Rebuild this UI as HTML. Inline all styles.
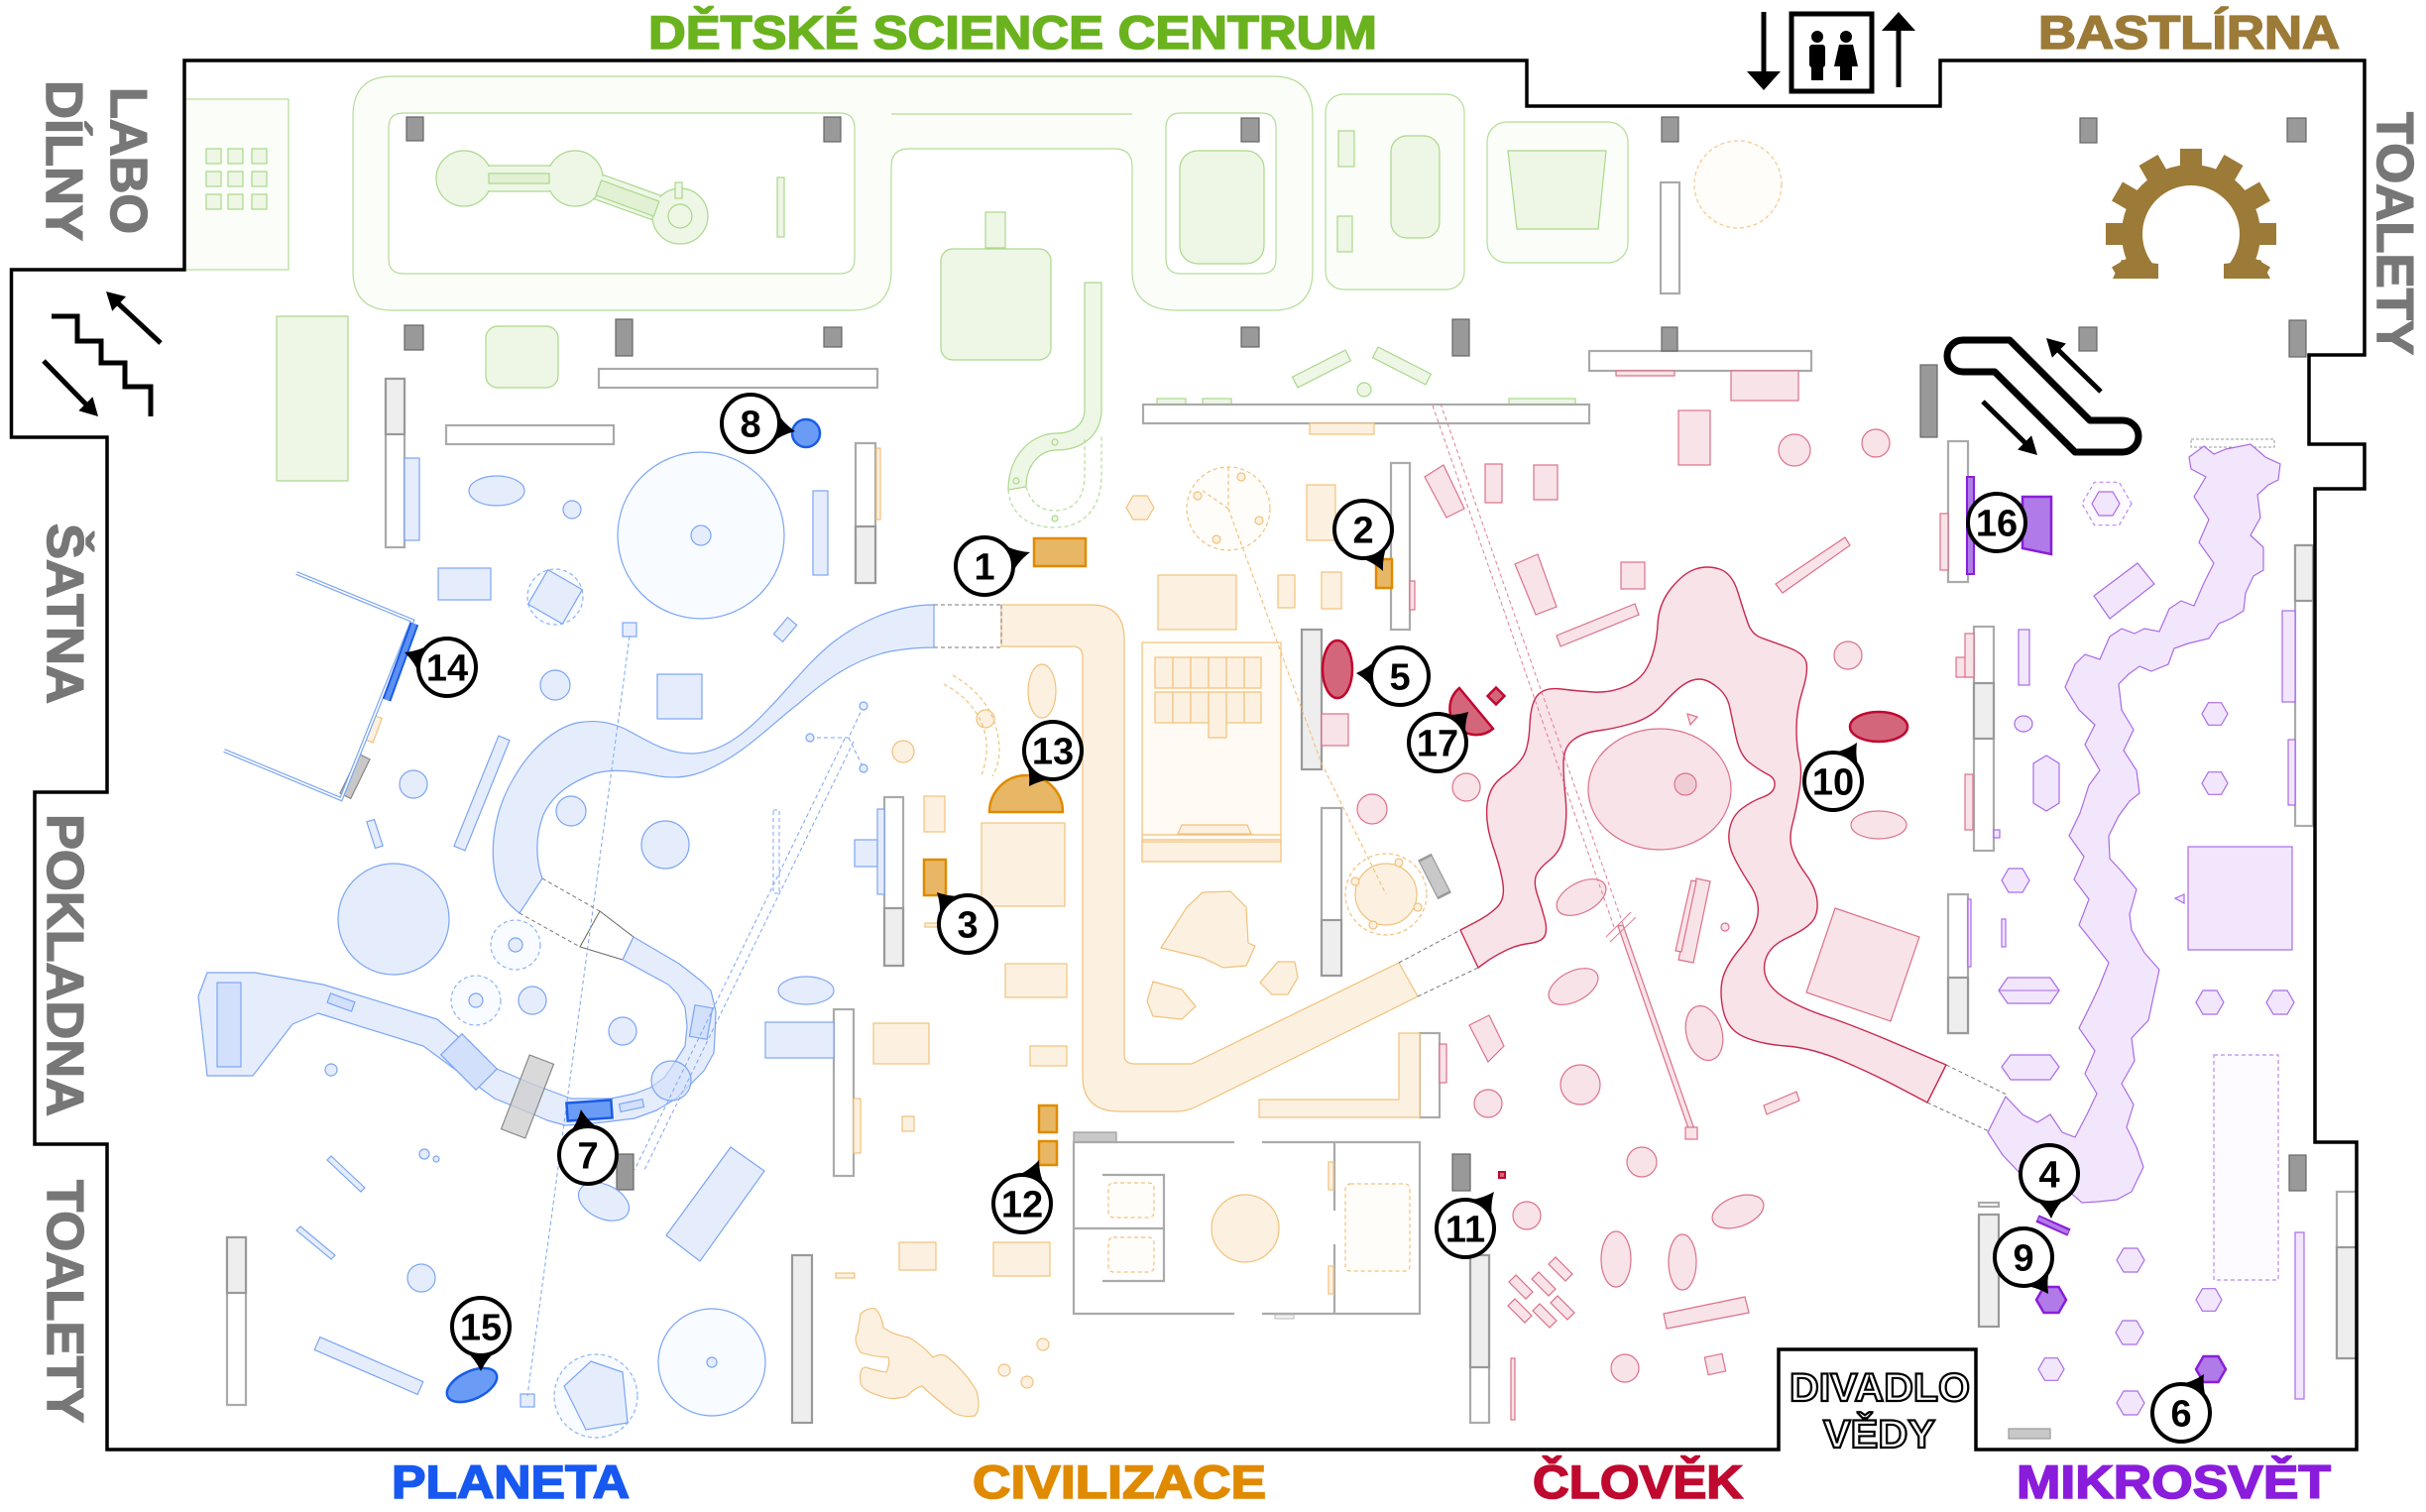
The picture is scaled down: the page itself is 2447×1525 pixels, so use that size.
<!DOCTYPE html>
<html><head><meta charset="utf-8"><style>
html,body{margin:0;padding:0;background:#fff}
svg{display:block}
</style></head><body>
<svg xmlns="http://www.w3.org/2000/svg" width="2447" height="1525" viewBox="0 0 2447 1525">
<style>
text{font-family:"Liberation Sans",Arial,sans-serif;font-weight:bold}
.g{fill:#eef6e5;stroke:#a9d98b;stroke-width:1.2}
.gt{fill:#fbfdf8;stroke:#b4dd98;stroke-width:1.2}
.b{fill:#e5edfd;stroke:#7ca5f5;stroke-width:1.2}
.bd{fill:#d2e0fb;stroke:#7ca5f5;stroke-width:1.2}
.bf{fill:#f8fbff;stroke:#7ca5f5;stroke-width:1.2}
.bdash{fill:#f8fbff;stroke:#8fb2f6;stroke-width:1.2;stroke-dasharray:4 3}
.o{fill:#fcf1e1;stroke:#f2c17a;stroke-width:1.2}
.odash{fill:none;stroke:#f2c17a;stroke-width:1.2;stroke-dasharray:4 3}
.p{fill:#f8e3e8;stroke:#dd7189;stroke-width:1.2}
.pb{fill:#f8e3e8;stroke:#c8284e;stroke-width:1.4;stroke-linejoin:round}
.u{fill:#f2e6fc;stroke:#a96be8;stroke-width:1.2}
.udash{fill:#fdfbff;stroke:#b98af0;stroke-width:1.2;stroke-dasharray:4 3}
.w{fill:#fff;stroke:#aaa;stroke-width:2.2}
.s{fill:#eee;stroke:#999;stroke-width:2.2}
.k{fill:#999;stroke:#666;stroke-width:1.2}
.dash{fill:none;stroke:#777;stroke-width:1;stroke-dasharray:4 3}
.m path{fill:#000}
.m circle{fill:#fff;stroke:#000;stroke-width:4}
.m text{font-size:38px;text-anchor:middle;fill:#000}
.lbl{fill:#777;stroke:#777;stroke-width:1.5;font-size:52px}
.ttl{font-size:47px;stroke-width:1.6}
</style>

<!-- ================= GREEN ZONE ================= -->
<rect class="gt" x="187" y="100" width="104" height="172"/>
<g class="g">
<rect x="208" y="150" width="15" height="15"/><rect x="230" y="150" width="15" height="15"/><rect x="254" y="150" width="15" height="15"/>
<rect x="208" y="173" width="15" height="15"/><rect x="230" y="173" width="15" height="15"/><rect x="254" y="173" width="15" height="15"/>
<rect x="208" y="196" width="15" height="15"/><rect x="230" y="196" width="15" height="15"/><rect x="254" y="196" width="15" height="15"/>
</g>
<path class="gt" fill-rule="evenodd" d="M396,77 H1284 Q1324,77 1324,117 V273 Q1324,313 1284,313 H1187 Q1142,313 1142,273 V168 Q1142,150 1124,150 H917 Q899,150 899,168 V273 Q899,313 859,313 H396 Q356,313 356,273 V117 Q356,77 396,77 Z M407,114 H847 Q862,114 862,129 V261 Q862,276 847,276 H407 Q392,276 392,261 V129 Q392,114 407,114 Z M1191,114 H1272 Q1287,114 1287,129 V261 Q1287,276 1272,276 H1191 Q1176,276 1176,261 V129 Q1176,114 1191,114 Z"/>
<path d="M899,115 H1142" fill="none" stroke="#b4dd98" stroke-width="1.2"/>
<!-- dumbbell -->
<g class="g">
<rect x="470" y="167" width="108" height="26"/>
<polygon points="584.4,167.8 690.4,205.8 681.6,230.2 575.6,192.2"/>
<circle cx="468" cy="180" r="28"/><circle cx="580" cy="180" r="28"/><circle cx="686" cy="218" r="28"/>
</g>
<g fill="#eef6e5"><rect x="480" y="168" width="90" height="24"/><polygon points="592,172 680,204 674,222 586,190"/></g>
<g class="g">
<rect x="493" y="175" width="61" height="10" style="fill:#e2f0d4"/>
<rect x="-31" y="-8" width="62" height="16" transform="translate(633,200) rotate(20)" style="fill:#e2f0d4"/>
<circle cx="686" cy="218" r="12"/>
<rect x="681" y="184" width="7" height="16"/>
<rect x="784" y="179" width="7" height="60"/>
<rect x="279" y="319" width="72" height="166"/>
<rect x="490" y="329" width="73" height="62" rx="12"/>
<rect x="949" y="251" width="111" height="112" rx="12"/>
<rect x="994" y="214" width="20" height="36"/>
<path d="M1094,285 H1111 V413 C1111,440 1090,454 1066,454 C1048,454 1035,470 1035,491 L1017,494 C1017,460 1040,437 1066,437 C1082,437 1094,428 1094,413 Z"/>
<rect x="1190" y="152" width="85" height="114" rx="18"/>
</g>
<path d="M1017,494 C1020,525 1045,532 1064,532 C1095,532 1111,510 1111,480 V440 M1035,491 C1040,508 1050,515 1064,515 C1085,515 1094,500 1094,480 V440" fill="none" stroke="#b4dd98" stroke-width="1.2" stroke-dasharray="4 3"/>
<g class="g"><circle cx="1064" cy="446" r="3"/><circle cx="1025" cy="485" r="3"/><circle cx="1064" cy="523" r="3"/></g>
<rect class="gt" x="1337" y="95" width="140" height="197" rx="18"/>
<g class="g">
<rect x="1350" y="132" width="16" height="36"/>
<rect x="1349" y="218" width="15" height="36"/>
<rect x="1403" y="137" width="49" height="103" rx="16"/>
</g>
<rect class="gt" x="1500" y="123" width="142" height="142" rx="20"/>
<polygon class="g" points="1521,152 1620,152 1612,231 1530,231"/>
<g class="g">
<rect x="-30" y="-6" width="60" height="12" transform="translate(1333,372) rotate(-27)"/>
<rect x="-30" y="-6" width="60" height="12" transform="translate(1414,369) rotate(27)"/>
<circle cx="1376" cy="393" r="7"/>
<rect x="1167" y="402" width="29" height="6"/><rect x="1213" y="402" width="29" height="6"/><rect x="1522" y="402" width="67" height="6"/>
</g>
<circle cx="1753" cy="186" r="44" fill="#fffdf9" stroke="#f5c78a" stroke-width="1.2" stroke-dasharray="4 3"/>

<!-- ================= GRAY STRUCTURE ================= -->
<g class="w">
<rect x="604" y="372" width="281" height="19"/>
<rect x="450" y="429" width="169" height="19"/>
<rect x="389" y="382" width="19" height="170"/>
<rect x="863" y="447" width="20" height="141"/>
<rect x="1153" y="408" width="450" height="19"/>
<rect x="1403" y="467" width="19" height="168"/>
<rect x="1603" y="354" width="224" height="20"/>
<rect x="1675" y="184" width="19" height="112"/>
<rect x="1965" y="445" width="20" height="142"/>
<rect x="1991" y="632" width="20" height="226"/>
<rect x="1965" y="902" width="20" height="140"/>
<rect x="2315" y="550" width="18" height="283"/>
<rect x="229" y="1248" width="19" height="169"/>
<rect x="892" y="804" width="19" height="170"/>
<rect x="841" y="1018" width="20" height="168"/>
<rect x="1333" y="815" width="20" height="169"/>
<rect x="1432" y="1042" width="20" height="85"/>
<rect x="1483" y="1266" width="19" height="169"/>
<rect x="2357" y="1202" width="20" height="168"/>
<rect x="1996" y="1213" width="20" height="4"/>
</g>
<g class="s">
<rect x="389" y="382" width="19" height="56"/>
<rect x="863" y="531" width="20" height="57"/>
<rect x="1313" y="635" width="20" height="141"/>
<rect x="1991" y="689" width="20" height="56"/>
<rect x="1965" y="986" width="20" height="56"/>
<rect x="2315" y="550" width="18" height="56"/>
<rect x="229" y="1248" width="19" height="56"/>
<rect x="799" y="1266" width="20" height="169"/>
<rect x="892" y="916" width="19" height="58"/>
<rect x="1333" y="928" width="20" height="56"/>
<rect x="1483" y="1266" width="19" height="113"/>
<rect x="1996" y="1225" width="20" height="113"/>
<rect x="2357" y="1258" width="20" height="112"/>
</g>
<g class="k">
<rect x="410" y="118" width="17" height="24"/><rect x="408" y="328" width="19" height="25"/><rect x="621" y="322" width="17" height="37"/>
<rect x="831" y="118" width="17" height="25"/><rect x="831" y="330" width="18" height="20"/><rect x="1252" y="119" width="18" height="24"/>
<rect x="1252" y="330" width="18" height="20"/><rect x="1465" y="322" width="17" height="37"/><rect x="1676" y="118" width="17" height="25"/>
<rect x="1676" y="330" width="16" height="24"/><rect x="2098" y="119" width="17" height="25"/><rect x="2307" y="119" width="19" height="24"/>
<rect x="2097" y="330" width="18" height="24"/><rect x="2309" y="323" width="17" height="37"/><rect x="1937" y="368" width="17" height="73"/>
<rect x="622" y="1164" width="17" height="36"/><rect x="1465" y="1164" width="18" height="37"/><rect x="2309" y="1165" width="17" height="36"/>
</g>
<g fill="#c8c8c8" stroke="#999" stroke-width="1.2">
<rect x="1083" y="1142" width="43" height="10"/>
<rect x="2026" y="1441" width="42" height="10"/>
<rect x="-7" y="-10" width="14" height="20" transform="translate(1447,884) rotate(-27) scale(1,2.1)"/>
</g>

<!-- ================= BLUE ZONE ================= -->
<g class="b">
<circle class="bf" cx="707" cy="540" r="84"/>
<circle cx="707" cy="540" r="10"/>
<ellipse cx="501" cy="495" rx="28" ry="15"/>
<circle cx="577" cy="514" r="9"/>
<rect x="442" y="573" width="53" height="32"/>
<circle class="bdash" cx="560" cy="602" r="28"/>
<rect x="-20" y="-20" width="40" height="40" transform="translate(560,602) rotate(30)"/>
<rect x="628" y="628" width="14" height="14"/>
<rect x="-6" y="-11" width="12" height="22" transform="translate(792,635) rotate(40)"/>
<circle cx="560" cy="691" r="15"/>
<rect x="663" y="680" width="45" height="45"/>
<rect x="408" y="462" width="15" height="83"/>
<rect x="820" y="495" width="15" height="85"/>
<circle cx="417" cy="791" r="14"/>
<rect x="-6" y="-60" width="12" height="120" transform="translate(486,800) rotate(22)"/>
<rect x="-4" y="-14" width="8" height="28" transform="translate(378,841) rotate(-18)"/>
<circle cx="397" cy="927" r="56"/>
<circle cx="576" cy="818" r="15"/>
<circle cx="671" cy="852" r="24"/>
<circle class="bdash" cx="520" cy="953" r="25"/><circle cx="520" cy="953" r="7"/>
<circle class="bdash" cx="480" cy="1009" r="25"/><circle cx="480" cy="1009" r="7"/>
<circle cx="537" cy="1009" r="14"/>
<circle cx="628" cy="1040" r="14"/>
<circle cx="334" cy="1079" r="6"/>
<rect x="862" y="847" width="23" height="27"/>
<rect x="885" y="816" width="7" height="86"/>
</g>
<!-- river upper -->
<path class="b" d="M942,610 C905,610 870,625 840,648 C815,668 795,695 775,715 C750,742 725,760 697,760 C670,760 650,745 630,735 C615,728 598,726 582,729 C560,734 535,755 518,785 C500,815 494,850 499,880 C502,900 512,912 524,921 L547,886 C541,870 539,845 548,822 C558,800 578,788 600,780 C620,775 640,778 660,782 C690,788 710,780 735,765 C760,750 785,725 805,710 C830,688 860,665 898,657 C915,654 930,653 942,653 Z"/>
<polygon points="605,919 639,945 628,968 585,955" fill="#fff" stroke="#666" stroke-width="1"/>
<path class="dash" d="M547,886 L605,919 M524,921 L585,955 M942,610 H1010 M942,653 H1010"/>
<!-- river lower -->
<path class="b" stroke-linejoin="round" d="M639,945 L685,972 L708,990 L717,999 L722,1020 L721,1045 L720,1062 L710,1080 L697,1093 L682,1108 L662,1120 L640,1128 L616,1131 L590,1134 L570,1135 L552,1130 L536,1123 L499,1108 L427,1055 L321,1022 L295,1033 L255,1085 L209,1085 L200,1005 L209,981 L257,981 L326,993 L441,1028 L501,1078 L536,1093 L576,1108 L616,1108 L640,1103 L656,1097 L670,1087 L679,1074 L691,1055 L693,1035 L691,1016 L684,1003 L674,993 L628,968 Z"/>
<g class="bd">
<rect x="219" y="991" width="24" height="85"/>
<rect x="-13" y="-5" width="26" height="10" transform="translate(344,1011) rotate(20)"/>
<rect x="-15" y="-25" width="30" height="50" transform="translate(473,1071) rotate(-45)"/>
<rect x="-9" y="-16" width="18" height="32" transform="translate(707,1031) rotate(10)"/>
<circle cx="677" cy="1090" r="20" style="fill-opacity:.6"/>
<rect x="-12" y="-4" width="24" height="8" transform="translate(637,1115) rotate(-12)"/>
</g>
<rect x="-13" y="-40" width="26" height="80" transform="translate(532,1106) rotate(21)" fill="#ccc" fill-opacity=".75" stroke="#888" stroke-width="1.2"/>
<rect x="-6" y="-22" width="12" height="44" transform="translate(358,783) rotate(26)" fill="#c8c8c8" stroke="#888" stroke-width="1.2"/>
<rect x="-4" y="-13" width="9" height="26" transform="translate(376,735) rotate(20)" class="o"/>
<polyline points="299,578 416,626 344,806 226,757" fill="none" stroke="#7ca5f5" stroke-width="4"/>
<polyline points="299,578 416,626 344,806 226,757" fill="none" stroke="#fff" stroke-width="1.6"/>
<line x1="418" y1="629" x2="390" y2="706" stroke="#1a5ce6" stroke-width="9"/>
<line x1="418" y1="629" x2="390" y2="706" stroke="#5d90f2" stroke-width="5"/>
<g class="b">
<ellipse cx="609" cy="1212" rx="27" ry="17" transform="rotate(25 609 1212)"/>
<polygon points="737,1157 771,1181 706,1272 672,1246"/>
<ellipse cx="813" cy="999" rx="28" ry="14"/>
<rect x="772" y="1031" width="69" height="36"/>
<circle cx="428" cy="1164" r="5"/><circle cx="440" cy="1169" r="3"/>
<polygon points="334,1166 368,1198 364,1202 330,1170"/>
<polygon points="303,1237 338,1266 334,1270 299,1241"/>
<circle cx="425" cy="1289" r="14"/>
<polygon points="322.8,1348.6 426.8,1393.6 421.2,1406.4 317.2,1361.4"/>
<circle class="bdash" cx="601" cy="1408" r="42"/>
<polygon points="596,1373 628,1384 633,1435 591,1442 569,1398"/>
<circle class="bf" cx="718" cy="1374" r="54"/>
<circle cx="718" cy="1374" r="5"/>
<rect x="525" y="1406" width="14" height="13"/>
</g>
<g fill="none" stroke="#7ca5f5" stroke-width="1" stroke-dasharray="4 3">
<path d="M635,642 L532,1408"/>
<path d="M852,745 L640,1180 M861,748 L650,1180"/>
<path d="M817,744 H856 L871,712 M856,744 L871,775"/>
<rect x="780" y="817" width="6" height="84"/>
</g>
<g class="b"><circle cx="817" cy="744" r="4"/><circle cx="871" cy="712" r="4"/><circle cx="871" cy="775" r="4"/></g>

<!-- ================= ORANGE ZONE ================= -->
<path class="o" d="M1010,610 H1100 Q1134,610 1134,645 V1064 Q1134,1073 1145,1073 H1202 L1411,971 L1430,1005 L1207,1116 Q1197,1121 1187,1121 H1129 Q1092,1121 1092,1085 V663 Q1092,652 1082,652 H1010 Z"/>
<path class="dash" d="M1411,971 L1473,938 M1430,1005 L1491,976 M1010,610 V652"/>
<g class="o">
<ellipse cx="1051" cy="697" rx="14" ry="27"/>
<circle cx="911" cy="758" r="11"/>
<circle cx="994" cy="725" r="9"/>
<rect x="932" y="803" width="21" height="36"/>
<rect x="990" y="830" width="84" height="84"/>
<rect x="933" y="931" width="18" height="4"/>
<rect x="1014" y="972" width="62" height="34"/>
<rect x="881" y="1032" width="56" height="41"/>
<rect x="1039" y="1055" width="37" height="20"/>
<rect x="910" y="1126" width="12" height="15"/>
<rect x="861" y="1108" width="7" height="55"/>
<rect x="907" y="1253" width="37" height="28"/>
<rect x="1002" y="1253" width="57" height="34"/>
<rect x="843" y="1284" width="19" height="5"/>
<rect x="884" y="452" width="4" height="72"/>
<path d="M868,1325 Q876,1318 883,1320 Q890,1328 891,1339 Q900,1346 917,1349 Q932,1358 941,1369 Q950,1364 956,1369 Q975,1385 985,1403 Q990,1422 983,1428 Q972,1430 962,1425 Q945,1412 930,1398 Q922,1400 915,1408 Q900,1413 888,1408 Q868,1402 868,1394 Q866,1380 873,1379 Q886,1383 894,1384 Q898,1375 896,1369 Q878,1368 868,1364 Q860,1352 865,1344 Z"/>
<circle cx="1052" cy="1356" r="6"/><circle cx="1013" cy="1382" r="6"/><circle cx="1036" cy="1394" r="6"/>
<polygon points="1213,900 1241,899 1257,915 1259,951 1266,954 1257,974 1234,976 1213,966 1171,956 1197,915"/>
<polygon points="1163,990 1192,998 1206,1015 1192,1028 1163,1025 1157,1010"/>
<polygon points="1289,970 1306,970 1309,986 1299,1003 1283,1003 1271,991"/>
<circle cx="1398" cy="902" r="31"/>
<polygon points="1164,512 1157,524 1143,524 1136,512 1143,500 1157,500"/>
<rect x="1318" y="489" width="29" height="56"/>
<rect x="1289" y="580" width="17" height="33"/>
<rect x="1333" y="577" width="20" height="37"/>
<rect x="1168" y="580" width="79" height="55"/>
<rect x="1321" y="427" width="65" height="11"/>
<rect x="1152" y="648" width="140" height="221" style="fill:#fffaf3"/>
<rect x="1152" y="849" width="140" height="20"/>
<path d="M1411,1042 H1432 V1127 H1270 V1109 H1411 Z"/>
</g>
<g class="o">
<rect x="1165" y="663" width="18" height="31"/><rect x="1183" y="663" width="18" height="31"/><rect x="1201" y="663" width="18" height="31"/><rect x="1219" y="663" width="18" height="31"/><rect x="1237" y="663" width="18" height="31"/><rect x="1255" y="663" width="17" height="31"/>
<rect x="1165" y="698" width="18" height="31"/><rect x="1183" y="698" width="18" height="31"/><rect x="1201" y="698" width="18" height="31"/><rect x="1219" y="698" width="18" height="46"/><rect x="1237" y="698" width="18" height="31"/><rect x="1255" y="698" width="17" height="31"/>
<polygon points="1192,832 1258,832 1262,841 1188,841"/>
<path d="M1152,842 H1292 M1152,847 H1292" fill="none"/>
</g>
<g class="odash">
<circle cx="1398" cy="902" r="41"/>
<circle cx="1239" cy="513" r="42" style="fill:#fffdf9"/>
<path d="M1239,471 V513 L1213,495 M1239,513 L1333,770 L1398,902"/>
<path d="M961,681 C985,695 1003,715 1007,745 C1010,760 1006,775 1001,783 M952,690 C975,702 992,722 995,748 C996,762 993,774 990,782"/>
</g>
<g class="o"><circle cx="1367" cy="889" r="4"/><circle cx="1411" cy="870" r="4"/><circle cx="1430" cy="915" r="4"/><circle cx="1385" cy="933" r="4"/>
<circle cx="1252" cy="481" r="4"/><circle cx="1208" cy="500" r="4"/><circle cx="1270" cy="525" r="4"/><circle cx="1227" cy="544" r="4"/></g>
<!-- room -->
<g fill="none" stroke="#aaa" stroke-width="2.2">
<path d="M1245,1152 H1083 V1325 H1245 M1273,1152 H1432 V1325 H1273"/>
<path d="M1346,1152 V1221 M1346,1255 V1325"/>
<path d="M1112,1185 H1174 V1292 H1112 M1083,1239 H1174"/>
</g>
<g class="odash" style="fill:#fffdf9">
<rect x="1118" y="1193" width="46" height="35" rx="5"/>
<rect x="1118" y="1248" width="46" height="35" rx="5"/>
<rect x="1357" y="1194" width="65" height="88" rx="5"/>
</g>
<circle class="o" cx="1256" cy="1239" r="34"/>
<rect class="o" x="1340" y="1172" width="5" height="28"/>
<rect class="o" x="1340" y="1277" width="5" height="28"/>
<rect x="1286" y="1326" width="19" height="4" fill="#f2f2f2" stroke="#bbb"/>

<!-- ================= PINK ZONE ================= -->
<path class="pb sm" d="M1473,938 L1473,938 L1502,923 L1518,907 L1514,877 L1498,831 L1502,793 L1530,773 L1542,754 L1544,708 L1559,693 L1591,697 L1624,699 L1657,685 L1671,651 L1673,609 L1698,578 L1722,570 L1747,578 L1759,617 L1767,640 L1787,647 L1820,659 L1824,678 L1812,716 L1812,754 L1818,777 L1812,816 L1804,846 L1812,869 L1832,896 L1834,923 L1820,938 L1787,953 L1777,976 L1787,999 L1820,1018 L1869,1034 L1963,1074 L1963,1074 L1944,1112 L1944,1112 L1889,1083 L1828,1057 L1775,1053 L1742,1038 L1734,999 L1742,972 L1771,938 L1775,907 L1755,877 L1742,850 L1747,823 L1767,808 L1789,800 L1791,785 L1775,777 L1755,762 L1747,724 L1742,701 L1722,685 L1706,685 L1689,697 L1665,724 L1628,735 L1596,739 L1577,754 L1577,785 L1581,823 L1575,858 L1551,877 L1547,892 L1555,915 L1561,938 L1555,950 L1530,953 L1506,965 L1491,976 L1491,976 Z"/>
<path class="dash" d="M1963,1074 L2024,1104 M1944,1112 L2006,1141"/>
<g class="p">
<ellipse cx="1674" cy="796" rx="72" ry="61"/>
<circle cx="1700" cy="791" r="11" style="fill:#f0cdd5"/>
<polygon points="1702,720 1712,723 1705,731"/>
<polygon points="1528,569 1551,559 1570,612 1549,620"/>
<rect x="1635" y="567" width="24" height="27"/>
<polygon points="1570,641 1649,609 1653,620 1574,652"/>
<polygon points="1791,589 1861,542 1866,550 1798,598"/>
<circle cx="1864" cy="661" r="14"/>
<ellipse cx="1895" cy="832" rx="28" ry="14"/>
<circle cx="1479" cy="794" r="14"/>
<ellipse cx="1595" cy="905" rx="27" ry="15" transform="rotate(-28 1595 905)"/>
<ellipse cx="1587" cy="995" rx="27" ry="15" transform="rotate(-28 1587 995)"/>
<polygon points="1482,1034 1502,1024 1517,1055 1501,1071"/>
<circle cx="1594" cy="1094" r="20"/>
<circle cx="1501" cy="1113" r="14"/>
<ellipse cx="1719" cy="1042" rx="18" ry="28" transform="rotate(-15 1719 1042)"/>
<polygon points="1711,886 1725,889 1708,971 1693,968"/>
<polygon points="1706,888 1711,889 1696,960 1690,959"/>
<circle cx="1740" cy="935" r="4"/>
<polygon points="1851,916 1936,945 1907,1030 1822,1001"/>
<polygon points="1779,1115 1812,1101 1815,1110 1782,1124"/>
<polygon points="1632,934 1637,933 1709,1139 1704,1141"/>
<rect x="1700" y="1137" width="12" height="12"/>
<polygon points="1437,481 1456,469 1477,513 1459,522"/>
<rect x="1498" y="468" width="17" height="39"/>
<rect x="1547" y="469" width="24" height="35"/>
<rect x="1333" y="720" width="27" height="32"/>
<rect x="1422" y="586" width="5" height="29"/>
<rect x="1746" y="374" width="68" height="30"/>
<rect x="1630" y="374" width="59" height="5"/>
<rect x="1693" y="414" width="32" height="55"/>
<circle cx="1810" cy="454" r="16"/>
<circle cx="1892" cy="447" r="14"/>
<circle cx="1384" cy="816" r="15"/>
<circle cx="1540" cy="1226" r="14"/>
<rect x="1524" y="1370" width="4" height="62"/>
<ellipse cx="1630" cy="1270" rx="15" ry="28"/>
<circle cx="1656" cy="1172" r="15"/>
<ellipse cx="1753" cy="1222" rx="27" ry="15" transform="rotate(-20 1753 1222)"/>
<ellipse cx="1697" cy="1273" rx="14" ry="28"/>
<polygon points="1678,1325 1760,1308 1764,1324 1681,1340"/>
<circle cx="1639" cy="1380" r="14"/>
<rect x="-9" y="-9" width="18" height="18" transform="translate(1730,1376) rotate(-12)"/>
<rect x="1957" y="518" width="8" height="57"/>
<rect x="1973" y="663" width="18" height="20"/><rect x="1982" y="639" width="9" height="44"/>
<rect x="1982" y="781" width="8" height="56"/>
<rect x="1452" y="1053" width="7" height="39"/>
</g>
<g class="p">
<rect x="-5" y="-12" width="10" height="24" transform="translate(1534,1298) rotate(-45)"/>
<rect x="-5" y="-12" width="10" height="24" transform="translate(1557,1295) rotate(-45)"/>
<rect x="-5" y="-12" width="10" height="24" transform="translate(1574,1280) rotate(-45)"/>
<rect x="-5" y="-12" width="10" height="24" transform="translate(1533,1322) rotate(-45)"/>
<rect x="-5" y="-12" width="10" height="24" transform="translate(1558,1327) rotate(-45)"/>
<rect x="-5" y="-12" width="10" height="24" transform="translate(1576,1319) rotate(-45)"/>
</g>
<path d="M1445,409 L1628,935 M1453,407 L1637,932" fill="none" stroke="#e27d94" stroke-width="1" stroke-dasharray="4 3"/>
<path d="M1620,945 L1645,920 M1624,950 L1650,925" stroke="#e27d94" stroke-width="1"/>

<!-- ================= PURPLE ZONE ================= -->
<rect x="2210" y="443" width="84" height="8" fill="none" stroke="#999" stroke-width="1" stroke-dasharray="3 2"/>
<polygon class="u" stroke-linejoin="miter" points="2208,461 2210,473 2225,481 2213,501 2228,524 2218,547 2233,568 2223,588 2213,611 2200,606 2188,614 2178,637 2163,634 2153,639 2140,634 2128,642 2118,665 2103,660 2093,670 2083,693 2097,716 2113,731 2103,751 2118,777 2107,792 2098,820 2087,843 2102,864 2092,887 2107,907 2097,933 2113,953 2127,971 2117,996 2107,1017 2097,1037 2113,1060 2103,1083 2115,1103 2105,1124 2093,1147 2080,1142 2068,1124 2055,1132 2040,1124 2023,1106 2005,1142 2020,1165 2037,1183 2060,1190 2085,1200 2100,1213 2116,1212 2135,1210 2150,1202 2162,1177 2155,1157 2145,1137 2152,1114 2140,1093 2153,1070 2150,1047 2167,1029 2173,1001 2178,978 2163,961 2150,938 2148,922 2155,897 2140,879 2128,866 2127,843 2137,823 2148,808 2158,800 2155,777 2142,757 2152,736 2140,716 2137,690 2147,680 2158,672 2170,677 2187,670 2193,654 2207,649 2228,644 2238,629 2250,624 2263,616 2265,598 2273,581 2283,575 2283,552 2270,540 2280,522 2277,499 2288,489 2298,484 2300,468 2285,461 2270,448 2245,453 2233,458 2223,450"/>
<polygon class="udash" points="2150,508 2137.5,529.7 2112.5,529.7 2100,508 2112.5,486.3 2137.5,486.3"/>
<g class="u">
<polygon points="2138,508 2131,520 2117,520 2110,508 2117,496 2131,496"/>
<polygon points="2112,601 2156,568 2173,589 2128,624"/>
<rect x="2036" y="635" width="11" height="56"/>
<ellipse cx="2041" cy="730" rx="9" ry="8"/>
<polygon points="2064,762 2077,770 2077,810 2064,818 2051,810 2051,770"/>
<polygon points="2247,720 2240.5,731.3 2227.5,731.3 2221,720 2227.5,708.7 2240.5,708.7"/>
<polygon points="2247,790 2240.5,801.3 2227.5,801.3 2221,790 2227.5,778.7 2240.5,778.7"/>
<polygon points="2047,888 2040,900 2026,900 2019,888 2026,876 2040,876"/>
<polygon points="2163,1271 2156,1283 2142,1283 2135,1271 2142,1259 2156,1259"/>
<polygon points="2241,1311 2234.5,1322.3 2221.5,1322.3 2215,1311 2221.5,1299.7 2234.5,1299.7"/>
<polygon points="2162,1344 2155,1356 2141,1356 2134,1344 2141,1332 2155,1332"/>
<polygon points="2082,1381 2075.5,1392.3 2062.5,1392.3 2056,1381 2062.5,1369.7 2075.5,1369.7"/>
<polygon points="2163,1415 2156,1427 2142,1427 2135,1415 2142,1403 2156,1403"/>
<polygon points="2243,1011 2236,1023 2222,1023 2215,1011 2222,999 2236,999"/>
<polygon points="2314,1011 2307,1023 2293,1023 2286,1011 2293,999 2307,999"/>
<polygon points="2016,999 2025,986 2068,986 2077,999 2068,1012 2025,1012"/>
<polygon points="2019,1076 2028,1064 2068,1064 2077,1076 2068,1089 2028,1089"/>
<rect x="2019" y="927" width="4" height="28"/>
<rect x="2207" y="854" width="105" height="104"/>
<polygon points="2194,906 2203,902 2203,911"/>
<rect x="2302" y="616" width="13" height="92"/>
<rect x="2308" y="746" width="7" height="66"/>
<rect x="1985" y="907" width="3" height="68"/>
<rect x="2315" y="1243" width="9" height="168"/>
<rect x="2011" y="837" width="6" height="8"/>
</g>
<rect class="udash" x="2233" y="1064" width="65" height="227"/>
<path d="M2016,999 H2077" stroke="#a96be8" stroke-width="1"/>

<!-- ================= TARGET SHAPES (strong colours) ================= -->
<rect x="1043" y="543" width="52" height="28" fill="#e8b765" stroke="#e08a00" stroke-width="2.5"/>
<rect x="1388" y="564" width="16" height="29" fill="#e8b765" stroke="#e08a00" stroke-width="2.5"/>
<rect x="932" y="867" width="22" height="36" fill="#e8b765" stroke="#e08a00" stroke-width="2.5"/>
<rect x="1048" y="1115" width="18" height="27" fill="#e8b765" stroke="#e08a00" stroke-width="2.5"/>
<rect x="1048" y="1151" width="18" height="24" fill="#e8b765" stroke="#e08a00" stroke-width="2.5"/>
<path d="M998,819 A37,37 0 0 1 1072,819 Z" fill="#e8b765" stroke="#e08a00" stroke-width="2.5"/>
<ellipse cx="1349" cy="675" rx="15" ry="29" fill="#d4667c" stroke="#c0082f" stroke-width="2.5"/>
<ellipse cx="1895" cy="733" rx="29" ry="15" fill="#d4667c" stroke="#c0082f" stroke-width="2.5"/>
<path d="M1472,694 L1506,735 A26.6,26.6 0 0 1 1472,694 Z" fill="#d4667c" stroke="#c0082f" stroke-width="2.5"/>
<rect x="-6" y="-6" width="12" height="12" transform="translate(1509,702) rotate(45)" fill="#d4667c" stroke="#c0082f" stroke-width="2.5"/>
<rect x="1512" y="1182" width="6" height="6" fill="#d4667c" stroke="#c0082f" stroke-width="2"/>
<rect x="-22" y="-9" width="45" height="18" transform="translate(594,1120) rotate(-4)" fill="#6b9cf5" stroke="#1a5ce6" stroke-width="2.5"/>
<circle cx="813" cy="437" r="14" fill="#6b9cf5" stroke="#1a5ce6" stroke-width="2.5"/>
<ellipse cx="476" cy="1397" rx="27" ry="14" transform="rotate(-25 476 1397)" fill="#6b9cf5" stroke="#1a5ce6" stroke-width="2.5"/>
<rect x="1984" y="481" width="7" height="98" fill="#b07ae8" stroke="#8a1ed8" stroke-width="2"/>
<polygon points="2040,501 2069,501 2069,559 2040,553" fill="#b07ae8" stroke="#8a1ed8" stroke-width="2.5"/>
<line x1="2055" y1="1229" x2="2087" y2="1243" stroke="#8a1ed8" stroke-width="8"/>
<line x1="2056" y1="1229" x2="2086" y2="1243" stroke="#b07ae8" stroke-width="4"/>
<polygon points="2084,1311 2076.5,1324 2061.5,1324 2054,1311 2061.5,1298 2076.5,1298" fill="#b07ae8" stroke="#8a1ed8" stroke-width="2.5"/>
<polygon points="2245,1381 2237.5,1394 2222.5,1394 2215,1381 2222.5,1368 2237.5,1368" fill="#b07ae8" stroke="#8a1ed8" stroke-width="2.5"/>

<!-- ================= WALLS ================= -->
<path d="M186,61 H1540 V107 H1957 V61 H2385 V358 H2329 V448 H2385 V493 H2335 V1152 H2377 V1462 H1993 V1361 H1794 V1462 H108 V1154 H35 V799 H108 V441 H11.5 V272 H186 Z" fill="none" stroke="#000" stroke-width="3.5" stroke-linejoin="miter"/>

<!-- ================= ICONS ================= -->
<polyline points="52,319 78,319 78,344 102,344 102,366 126,366 126,390 152,390 152,420" fill="none" stroke="#000" stroke-width="5"/>
<line x1="162" y1="346" x2="118" y2="305" stroke="#000" stroke-width="5"/>
<polygon points="107,294 127,299.1 113.2,313.7" fill="#000"/>
<line x1="44" y1="364" x2="88" y2="409" stroke="#000" stroke-width="5"/>
<polygon points="99,420 79.3,414.2 93.5,400.2" fill="#000"/>
<path d="M1980,343 H2027 L2108,424 H2141 A16,16 0 0 1 2141,456 H2093 L2012,375 H1980 A16,16 0 0 1 1980,343 Z" fill="none" stroke="#000" stroke-width="7" stroke-linejoin="round"/>
<line x1="2119" y1="395" x2="2075" y2="352" stroke="#000" stroke-width="5"/>
<polygon points="2064,341 2083.9,346.5 2069.9,360.7" fill="#000"/>
<line x1="2000" y1="405" x2="2044" y2="448" stroke="#000" stroke-width="5"/>
<polygon points="2055,459 2035.1,453.5 2049.1,439.3" fill="#000"/>
<line x1="1779" y1="12" x2="1779" y2="75" stroke="#000" stroke-width="5"/>
<polygon points="1762,72 1796,72 1779,91" fill="#000"/>
<rect x="1807" y="14" width="81" height="78" fill="none" stroke="#000" stroke-width="5"/>
<circle cx="1833" cy="37" r="6" fill="#000"/>
<rect x="1825" y="45" width="16" height="23" rx="3" fill="#000"/>
<rect x="1827" y="62" width="12" height="19" fill="#000"/>
<circle cx="1862" cy="37" r="6" fill="#000"/>
<polygon points="1855,45 1869,45 1874,67 1850,67" fill="#000"/>
<rect x="1856" y="62" width="12" height="19" fill="#000"/>
<line x1="1915" y1="88" x2="1915" y2="28" stroke="#000" stroke-width="5"/>
<polygon points="1898,31 1932,31 1915,12" fill="#000"/>
<defs><clipPath id="gc"><rect x="2100" y="120" width="220" height="161"/></clipPath></defs>
<g clip-path="url(#gc)" fill="#9c7a37">
<circle cx="2210" cy="236" r="59.5" fill="none" stroke="#9c7a37" stroke-width="21"/>
<g transform="translate(2210,236)">
<rect x="-11" y="-86" width="22" height="26"/>
<rect x="-11" y="-86" width="22" height="26" transform="rotate(30)"/>
<rect x="-11" y="-86" width="22" height="26" transform="rotate(60)"/>
<rect x="-11" y="-86" width="22" height="26" transform="rotate(90)"/>
<rect x="-11" y="-86" width="22" height="26" transform="rotate(120)"/>
<rect x="-11" y="-86" width="22" height="26" transform="rotate(-30)"/>
<rect x="-11" y="-86" width="22" height="26" transform="rotate(-60)"/>
<rect x="-11" y="-86" width="22" height="26" transform="rotate(-90)"/>
<rect x="-11" y="-86" width="22" height="26" transform="rotate(-120)"/>
</g>
</g>
<rect x="2177" y="262" width="66" height="21" fill="#fff"/>
<polygon points="2131,281 2177,281 2177,266 2140,262" fill="#9c7a37"/>
<polygon points="2290,281 2243,281 2243,266 2280,262" fill="#9c7a37"/>

<!-- ================= LABELS ================= -->
<text class="ttl" x="654" y="49" fill="#6ab31e" stroke="#6ab31e" textLength="735" lengthAdjust="spacingAndGlyphs">DĚTSKÉ SCIENCE CENTRUM</text>
<text class="ttl" x="2056" y="49" fill="#9c7a37" stroke="#9c7a37" textLength="304" lengthAdjust="spacingAndGlyphs">BASTLÍRNA</text>
<text class="ttl" x="395" y="1511" fill="#1758f0" stroke="#1758f0" textLength="240" lengthAdjust="spacingAndGlyphs">PLANETA</text>
<text class="ttl" x="981" y="1511" fill="#e08a00" stroke="#e08a00" textLength="296" lengthAdjust="spacingAndGlyphs">CIVILIZACE</text>
<text class="ttl" x="1546" y="1511" fill="#c0092f" stroke="#c0092f" textLength="212" lengthAdjust="spacingAndGlyphs">ČLOVĚK</text>
<text class="ttl" x="2034" y="1511" fill="#8a1cdb" stroke="#8a1cdb" textLength="317" lengthAdjust="spacingAndGlyphs">MIKROSVĚT</text>
<text x="1805" y="1413" font-size="40" fill="#fff" stroke="#000" stroke-width="2.2" textLength="182" lengthAdjust="spacingAndGlyphs">DIVADLO</text>
<text x="1839" y="1460" font-size="40" fill="#fff" stroke="#000" stroke-width="2.2" textLength="113" lengthAdjust="spacingAndGlyphs">VĚDY</text>
<text class="lbl" transform="translate(112,88) rotate(90)" textLength="148" lengthAdjust="spacingAndGlyphs">LABO</text>
<text class="lbl" transform="translate(47,81) rotate(90)" textLength="162" lengthAdjust="spacingAndGlyphs">DÍLNY</text>
<text class="lbl" transform="translate(48,528) rotate(90)" textLength="182" lengthAdjust="spacingAndGlyphs">ŠATNA</text>
<text class="lbl" transform="translate(48,821) rotate(90)" textLength="305" lengthAdjust="spacingAndGlyphs">POKLADNA</text>
<text class="lbl" transform="translate(48,1190) rotate(90)" textLength="245" lengthAdjust="spacingAndGlyphs">TOALETY</text>
<text class="lbl" transform="translate(2398,113) rotate(90)" textLength="245" lengthAdjust="spacingAndGlyphs">TOALETY</text>

<!-- ================= MARKERS ================= -->
<g class="m">
<g transform="translate(993,571)"><path transform="rotate(-16.9)" d="M22,-18 Q32,-6 48,0 Q32,6 22,18 Z"/><circle r="29"/><text y="13.5">1</text></g>
<g transform="translate(1375,534)"><path transform="rotate(64.5)" d="M22,-18 Q32,-6 46.5,0 Q32,6 22,18 Z"/><circle r="29"/><text y="13.5">2</text></g>
<g transform="translate(976,932)"><path transform="rotate(-134.1)" d="M22,-18 Q32,-6 44.6,0 Q32,6 22,18 Z"/><circle r="29"/><text y="13.5">3</text></g>
<g transform="translate(2067,1184)"><path transform="rotate(87.5)" d="M22,-18 Q32,-6 45,0 Q32,6 22,18 Z"/><circle r="29"/><text y="13.5">4</text></g>
<g transform="translate(1412,682)"><path transform="rotate(-176.1)" d="M22,-18 Q32,-6 44.1,0 Q32,6 22,18 Z"/><circle r="29"/><text y="13.5">5</text></g>
<g transform="translate(2200,1425)"><path transform="rotate(-59.5)" d="M22,-18 Q32,-6 45.3,0 Q32,6 22,18 Z"/><circle r="29"/><text y="13.5">6</text></g>
<g transform="translate(593,1165)"><path transform="rotate(-98.7)" d="M22,-18 Q32,-6 46.5,0 Q32,6 22,18 Z"/><circle r="29"/><text y="13.5">7</text></g>
<g transform="translate(757,427)"><path transform="rotate(10.1)" d="M22,-18 Q32,-6 45.7,0 Q32,6 22,18 Z"/><circle r="29"/><text y="13.5">8</text></g>
<g transform="translate(2041,1268)"><path transform="rotate(55.9)" d="M22,-18 Q32,-6 44.7,0 Q32,6 22,18 Z"/><circle r="29"/><text y="13.5">9</text></g>
<g transform="translate(1849,788)"><path transform="rotate(-58.4)" d="M22,-18 Q32,-6 45.8,0 Q32,6 22,18 Z"/><circle r="29"/><text y="13.5">10</text></g>
<g transform="translate(1478,1239)"><path transform="rotate(-51.9)" d="M22,-18 Q32,-6 47,0 Q32,6 22,18 Z"/><circle r="29"/><text y="13.5">11</text></g>
<g transform="translate(1031,1214)"><path transform="rotate(-68.9)" d="M22,-18 Q32,-6 47.2,0 Q32,6 22,18 Z"/><circle r="29"/><text y="13.5">12</text></g>
<g transform="translate(1062,757)"><path transform="rotate(123.7)" d="M22,-18 Q32,-6 43.3,0 Q32,6 22,18 Z"/><circle r="29"/><text y="13.5">13</text></g>
<g transform="translate(451,673)"><path transform="rotate(-160.8)" d="M22,-18 Q32,-6 45.5,0 Q32,6 22,18 Z"/><circle r="29"/><text y="13.5">14</text></g>
<g transform="translate(485,1338)"><path transform="rotate(90)" d="M22,-18 Q32,-6 45,0 Q32,6 22,18 Z"/><circle r="29"/><text y="13.5">15</text></g>
<g transform="translate(2014,527)"><circle r="29"/><text y="13.5">16</text></g>
<g transform="translate(1450,749)"><path transform="rotate(-45)" d="M22,-18 Q32,-6 44,0 Q32,6 22,18 Z"/><circle r="29"/><text y="13.5">17</text></g>
</g>
</svg>
<script>
(function(){
var els=document.querySelectorAll('path.sm');
for(var k=0;k<els.length;k++){
 var e=els[k];
 var n=e.getAttribute('d').match(/-?\d+(\.\d+)?/g).map(Number),p=[];
 for(var i=0;i+1<n.length;i+=2)p.push([n[i],n[i+1]]);
 var L=p.length;
 var m=function(a,b){return ((a[0]+b[0])/2).toFixed(1)+','+((a[1]+b[1])/2).toFixed(1);};
 var d='M'+m(p[L-1],p[0]);
 for(var j=0;j<L;j++){d+=' Q'+p[j][0]+','+p[j][1]+' '+m(p[j],p[(j+1)%L]);}
 e.setAttribute('d',d+'Z');
}
})();
</script>
</body></html>
